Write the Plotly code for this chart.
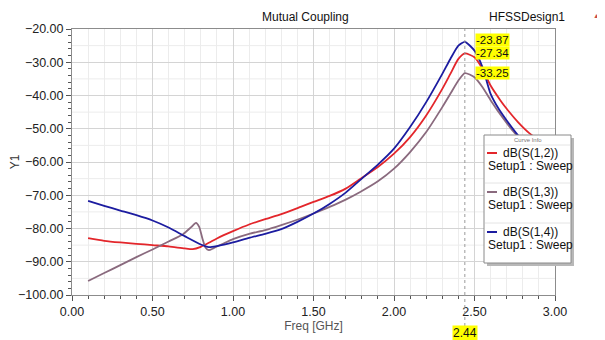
import plotly.graph_objects as go

# ---- data ----
freq_s12 = [0.1, 0.2, 0.3, 0.4, 0.5, 0.6, 0.7, 0.75, 0.8, 0.85, 0.9, 1.0, 1.1, 1.2, 1.3, 1.42, 1.5, 1.6, 1.7, 1.79,
            1.9, 2.0, 2.1, 2.2, 2.3, 2.35, 2.4, 2.44, 2.5, 2.55, 2.6, 2.66, 2.7, 2.77, 2.84, 2.95]
s12 = [-82.9, -83.7, -84.2, -84.6, -85.0, -85.4, -86.0, -86.2, -85.5, -84.3, -83.0, -80.8, -78.8, -77.2, -75.7, -73.5,
       -72.0, -70.2, -68.0, -65.1, -61.5, -57.5, -52.5, -46.0, -38.0, -33.5, -29.0, -27.34, -28.5, -32.0, -37.0, -41.4,
       -44.0, -48.0, -51.3, -55.0]

freq_s13 = [0.1, 0.2, 0.3, 0.4, 0.5, 0.6, 0.69, 0.74, 0.77, 0.79, 0.81, 0.83, 0.85, 0.88, 0.95, 1.0, 1.1, 1.2, 1.3,
            1.42, 1.5, 1.6, 1.7, 1.79, 1.9, 2.0, 2.1, 2.2, 2.3, 2.35, 2.4, 2.44, 2.5, 2.55, 2.6, 2.68, 2.75, 2.85, 2.95]
s13 = [-95.8, -93.4, -91.0, -88.6, -86.3, -83.9, -81.7, -79.6, -78.3, -79.5, -83.0, -85.8, -86.5, -85.9, -84.3, -83.2,
       -81.6, -80.5, -79.0, -77.0, -75.5, -73.5, -71.3, -69.0, -65.8, -62.0, -57.0, -51.0, -43.5, -39.5, -35.5, -33.25,
       -34.5, -37.5, -41.4, -47.0, -51.3, -55.5, -58.0]

freq_s14 = [0.1, 0.2, 0.3, 0.4, 0.5, 0.6, 0.7, 0.8, 0.85, 0.9, 1.0, 1.1, 1.2, 1.3, 1.4, 1.5, 1.6, 1.7, 1.8, 1.9, 2.0,
            2.1, 2.2, 2.3, 2.35, 2.4, 2.44, 2.5, 2.55, 2.6, 2.65, 2.7, 2.78, 2.85, 2.95]
s14 = [-71.7, -73.2, -74.6, -76.0, -77.6, -79.7, -82.3, -84.8, -85.6, -85.3, -84.2, -82.8, -81.6, -80.2, -78.0, -75.5,
       -72.6, -69.2, -65.0, -60.8, -56.0, -49.5, -42.0, -33.5, -29.0, -25.0, -23.87, -26.5, -31.5, -39.5, -44.0, -47.5,
       -52.5, -55.5, -58.0]

marker_freq = 2.44
marker_vals = [-23.87, -27.34, -33.25]
series_names = ["dB(S(1,2))", "dB(S(1,3))", "dB(S(1,4))"]
series_colors = ["#e3262b", "#8a6a7e", "#1c1ca0"]

# ---- geometry helpers (screen pixel -> paper); page body has an 8px margin ----
W, H = 605, 340
OFF = 8
SL, SR, ST, SB = 72, 555, 29, 295          # plot area on screen
L, R, T, B = SL - OFF, SR - OFF, ST - OFF, SB - OFF   # inside figure


def px(x):
    return (x - OFF - L) / (R - L)


def py(y):
    return (B - (y - OFF)) / (B - T)


fig = go.Figure()
for f, v, c, n in [(freq_s12, s12, series_colors[0], series_names[0]),
                   (freq_s13, s13, series_colors[1], series_names[1]),
                   (freq_s14, s14, series_colors[2], series_names[2])]:
    fig.add_trace(go.Scatter(x=f, y=v, mode="lines", name=n, line=dict(color=c, width=1.8, shape="spline", smoothing=0.6),
                             showlegend=False, hoverinfo="skip"))

font = "Liberation Sans, Arial, sans-serif"
axis_common = dict(showline=True, linecolor="#8c8c8c", linewidth=1, mirror=True, ticks="outside", ticklen=5,
                   tickcolor="#555", tickfont=dict(family=font, size=12.5, color="#222"), tickformat=".2f",
                   showgrid=True, gridcolor="#d4d4d4", gridwidth=1, zeroline=False, automargin=False)

fig.update_xaxes(range=[0, 3], dtick=0.5, **axis_common,
                 minor=dict(dtick=0.1, showgrid=True, gridcolor="#ececec", ticks="outside", ticklen=3, tickcolor="#555"),
                 title=dict(text="Freq [GHz]", font=dict(family=font, size=12, color="#555"), standoff=0))
fig.update_yaxes(range=[-100, -20], dtick=10, **axis_common,
                 minor=dict(dtick=2, showgrid=False, ticks="outside", ticklen=3, tickcolor="#555"),
                 title=dict(text="Y1", font=dict(family=font, size=12, color="#333"), standoff=4))
# extra 5 dB minor horizontal grid
shapes = []
for yv in range(-95, -20, 10):
    shapes.append(dict(type="line", xref="paper", yref="y", x0=0, x1=1, y0=yv, y1=yv,
                       line=dict(color="#ececec", width=1), layer="below"))
# marker dashed line
shapes.append(dict(type="line", xref="x", yref="paper", x0=marker_freq, x1=marker_freq, y0=0, y1=1,
                   line=dict(color="#9a9a9a", width=1, dash="dot")))
shapes.append(dict(type="line", xref="x", yref="paper", x0=marker_freq, x1=marker_freq, y0=py(326), y1=0,
                   line=dict(color="#9a9a9a", width=1, dash="dot")))

annotations = []


def txt(text, x, y, size=12, color="#111", xanchor="center", **kw):
    annotations.append(dict(text=text, xref="paper", yref="paper", x=x, y=y, xanchor=xanchor, yanchor="middle",
                            showarrow=False, font=dict(family=font, size=size, color=color), **kw))


txt("Mutual Coupling", px(305), py(17))
txt("HFSSDesign1", px(527), py(17))
txt("▲", px(596), py(16), size=7, color="#c84a4a")

# marker value labels
label_y_px = [40, 53, 73]
for val, ypx in zip(marker_vals, label_y_px):
    txt(f"{val:.2f}", px(475), py(ypx), size=11.5, xanchor="left", bgcolor="#ffff00", borderpad=0)
annotations.append(dict(text=f"{marker_freq:.2f}", xref="x", yref="paper", x=marker_freq, y=py(333),
                        xanchor="center", yanchor="middle", showarrow=False, bgcolor="#ffff00", borderpad=0,
                        font=dict(family=font, size=12, color="#111")))

# legend box (curve info)
x0, x1, y0, y1 = 484, 571, 135, 263
shapes.append(dict(type="rect", xref="paper", yref="paper", x0=px(x0 + 3), x1=px(x1 + 3), y0=py(y1 + 3), y1=py(y0 + 3),
                   fillcolor="#b8b8b8", line=dict(width=0)))
shapes.append(dict(type="rect", xref="paper", yref="paper", x0=px(x0), x1=px(x1), y0=py(y1), y1=py(y0),
                   fillcolor="white", line=dict(color="#8a8a8a", width=1)))
txt("Curve Info", px((x0 + x1) / 2), py(140), size=6, color="#777")
for ysep in [145, 183, 223]:
    shapes.append(dict(type="line", xref="paper", yref="paper", x0=px(x0 + 1), x1=px(x1 - 1), y0=py(ysep), y1=py(ysep),
                       line=dict(color="#e4e4e4", width=1)))
entry_y = [153, 192, 232]
for n, c, ey in zip(series_names, series_colors, entry_y):
    shapes.append(dict(type="line", xref="paper", yref="paper", x0=px(487), x1=px(497), y0=py(ey), y1=py(ey),
                       line=dict(color=c, width=2)))
    txt(n, px(501), py(ey), xanchor="left")
    txt("Setup1 : Sweep", px(486), py(ey + 13), xanchor="left")

fig.update_layout(width=W, height=H, margin=dict(l=L, r=W - R, t=T, b=H - B),
                  paper_bgcolor="white", plot_bgcolor="white", shapes=shapes, annotations=annotations,
                  showlegend=False)
fig.write_html("out.html")
